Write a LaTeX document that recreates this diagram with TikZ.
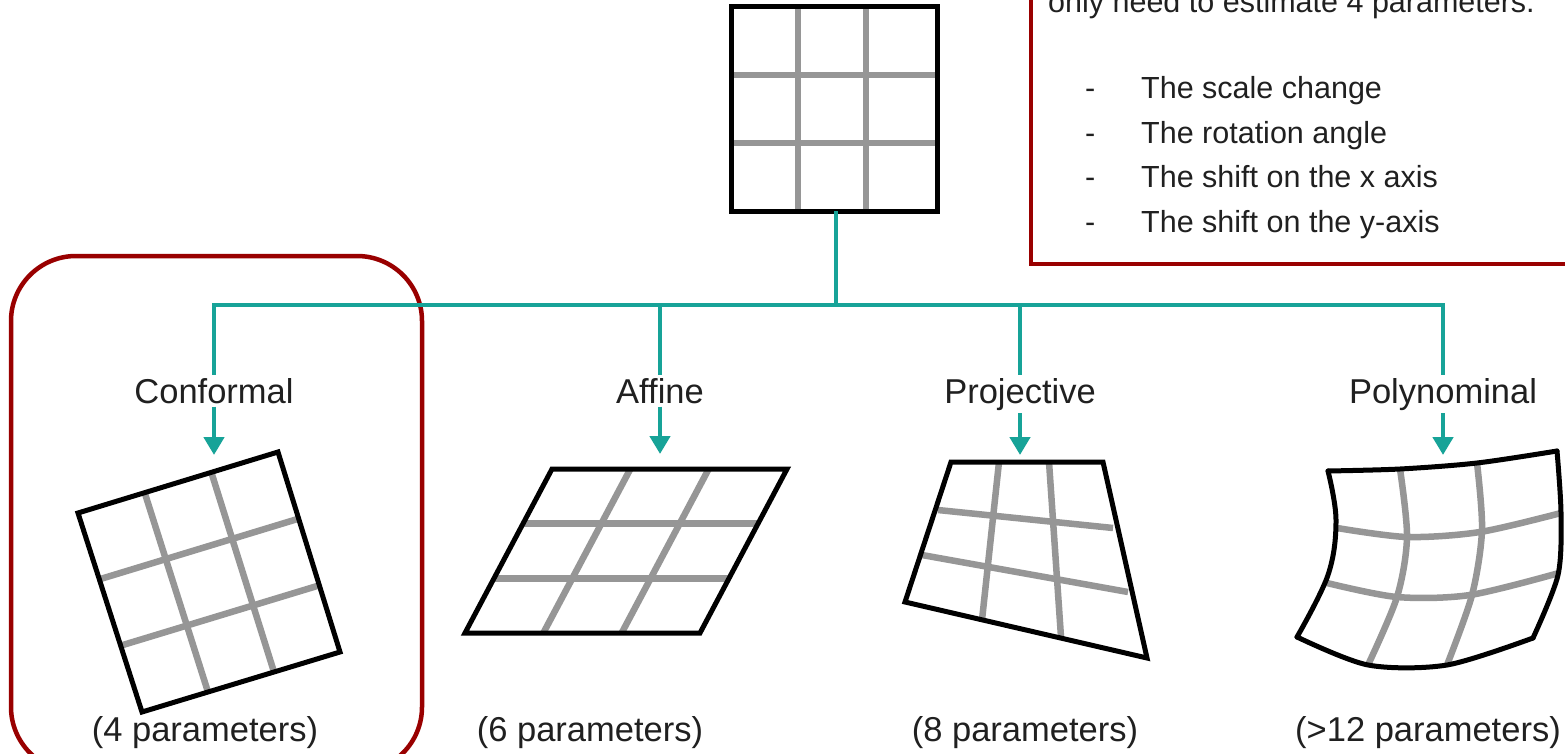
\documentclass[tikz,border=0pt]{standalone}
\usepackage{fontspec}
\setmainfont{Liberation Sans}
\usetikzlibrary{arrows.meta,calc}
\definecolor{tealc}{RGB}{23,163,152}
\definecolor{darkred}{RGB}{153,0,0}
\definecolor{gridgray}{RGB}{150,150,150}
\definecolor{txt}{RGB}{32,32,32}
\begin{document}
\begin{tikzpicture}[x=1pt,y=-1pt,
  border/.style={draw=black,line width=5pt,line join=miter},
  gline/.style={draw=gridgray,line width=6.5pt},
  conn/.style={draw=tealc,line width=4.5pt},
  arr/.style={conn,-{Triangle[length=18pt,width=20pt]}},
  lab/.style={font=\fontsize{34.5}{40}\selectfont,text=txt,inner xsep=0pt,inner ysep=3pt,anchor=base,fill=white},
  plab/.style={font=\fontsize{34.5}{40}\selectfont,text=txt,inner sep=0pt,anchor=base},
  boxtxt/.style={font=\fontsize{30.5}{40}\selectfont,text=txt,inner sep=0pt,anchor=base west},
  redbox/.style={draw=darkred,line width=4.5pt}
]
\clip (0,0) rectangle (1565,754);
\fill[white] (0,0) rectangle (1565,754);

% ---------- top-right note box ----------
\draw[redbox] (1031,-30) rectangle (1620,264);
\node[boxtxt] (t0) at (1048,13) {only need to estimate 4 parameters.};
\foreach \y/\t [count=\i] in {99/The scale change,144/The rotation angle,188/The shift on the x axis,232/The shift on the y-axis}{
  \node[boxtxt] (d\i) at (1085,\y) {-};
  \node[boxtxt] (t\i) at (1141,\y) {\t};
}

% ---------- red rounded box round Conformal ----------
\draw[redbox,rounded corners=65pt] (11,256) rectangle (422,772);

% ---------- top grid ----------
\foreach \x in {798,866}{\draw[gline] (\x,7) -- (\x,211);}
\foreach \y in {75,143}{\draw[gline] (731,\y) -- (937,\y);}
\draw[border] (731,7) rectangle (937,211);
\coordinate (topb) at (836,211);
\coordinate (j) at (836,305);

% ---------- labels ----------
\node[lab] (l1) at (214,403) {Conformal};
\node[lab] (l2) at (660,403) {Affine};
\node[lab] (l3) at (1020,403) {Projective};
\node[lab] (l4) at (1443,403) {Polynominal};

\coordinate (g1) at (214,455);
\coordinate (g2) at (660,454);
\coordinate (g3) at (1020,455);
\coordinate (g4) at (1443,455);

% ---------- connectors ----------
\draw[conn] (topb) -- (j);
\draw[conn] (l1.north) |- (j) -| (l4.north);
\draw[conn] (l2.north) -- (l2.north |- j);
\draw[conn] (l3.north) -- (l3.north |- j);
\foreach \i in {1,2,3,4}{\draw[arr] (l\i.south) -- (g\i);}

% ---------- conformal grid ----------
\coordinate (a) at (78,513);
\coordinate (b) at (278,452);
\coordinate (c) at (340,652);
\coordinate (d) at (142,712);
\foreach \k in {1/3,2/3}{
  \draw[gline] ($(a)!\k!(b)$) -- ($(d)!\k!(c)$);
  \draw[gline] ($(a)!\k!(d)$) -- ($(b)!\k!(c)$);
}
\draw[border] (a) -- (b) -- (c) -- (d) -- cycle;

% ---------- affine grid ----------
\coordinate (a) at (552,469);
\coordinate (b) at (787,469);
\coordinate (c) at (700,633);
\coordinate (d) at (465,633);
\foreach \k in {1/3,2/3}{
  \draw[gline] ($(a)!\k!(b)$) -- ($(d)!\k!(c)$);
  \draw[gline] ($(a)!\k!(d)$) -- ($(b)!\k!(c)$);
}
\draw[border] (a) -- (b) -- (c) -- (d) -- cycle;

% ---------- projective grid ----------
\draw[gline] (999,462) -- (982,620);
\draw[gline] (1049,462) -- (1061,637);
\draw[gline] (938,510) -- (1113,528);
\draw[gline] (922,555) -- (1128,592);
\draw[border] (951,462) -- (1103,462) -- (1147,658) -- (905,602) -- cycle;

% ---------- polynomial grid ----------
\draw[gline] plot[smooth] coordinates {(1400,469) (1407,537) (1397,597) (1368,665)};
\draw[gline] plot[smooth] coordinates {(1477,463) (1482,530) (1472,595) (1447,665)};
\draw[gline] plot[smooth] coordinates {(1337,528) (1407,537) (1480,532) (1561,513)};
\draw[gline] plot[smooth] coordinates {(1327,583) (1397,597) (1470,595) (1559,573)};
\draw[border,line cap=round] plot[smooth] coordinates {(1328,471) (1400,469) (1477,463) (1557,451)};
\draw[border,line cap=round] plot[smooth] coordinates {(1557,451) (1561,513) (1558,575) (1533,638)};
\draw[border,line cap=round] plot[smooth] coordinates {(1297,637) (1368,665) (1447,665) (1533,638)};
\draw[border,line cap=round] plot[smooth,tension=0.6] coordinates {(1328,471) (1336,520) (1328,575) (1297,637)};

% ---------- parameter counts ----------
\node[plab] (p1) at (205,741) {(4 parameters)};
\node[plab] (p2) at (590,741) {(6 parameters)};
\node[plab] (p3) at (1025,741) {(8 parameters)};
\node[plab] (p4) at (1428,741) {(>12 parameters)};
\end{tikzpicture}
\end{document}
